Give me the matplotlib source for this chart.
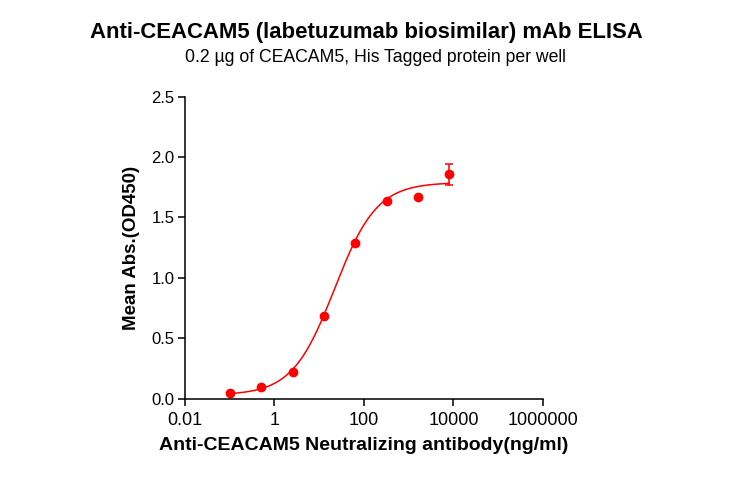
import numpy as np
import matplotlib
matplotlib.use("Agg")
import matplotlib.pyplot as plt

plt.rcParams['font.family'] = ['Liberation Sans', 'DejaVu Sans']

# data (5-fold dilution series)
conc = [0.1024, 0.512, 2.56, 12.8, 64, 320, 1600, 8000]
od450 = [0.05, 0.097, 0.224, 0.683, 1.287, 1.635, 1.668, 1.856]
od_err = [0, 0, 0, 0, 0, 0, 0, 0.09]

# 4PL fit parameters (bottom, top, EC50, hill) estimated from the drawn curve
fit_bottom = 0.03
fit_top = 1.79
fit_ec50 = 22.0
fit_hill = 0.92


def four_pl(x):
    return fit_bottom + (fit_top - fit_bottom) / (1 + (fit_ec50 / x) ** fit_hill)


fig = plt.figure(figsize=(7.3, 4.78), dpi=100)
ax = fig.add_axes([0.2534, 0.1659, 0.4904, 0.6318])

xs = np.logspace(np.log10(min(conc)), np.log10(max(conc)), 300)
ax.plot(xs, four_pl(xs), color='#ff0000', lw=1.1)
ax.errorbar(conc, od450, yerr=od_err, fmt='o', color='#ff0000', ms=6,
            elinewidth=1.1, capsize=3, capthick=1.1)

ax.set_xscale('log')
ax.set_xlim(0.01, 1e6)
ax.set_ylim(0, 2.5)
ax.set_xticks([0.01, 1, 100, 10000, 1000000])
ax.set_xticklabels(['0.01', '1', '100', '10000', '1000000'])
ax.minorticks_off()
ax.set_yticks([0, 0.5, 1.0, 1.5, 2.0, 2.5])
ax.set_yticklabels(['0.0', '0.5', '1.0', '1.5', '2.0', '2.5'])

for s in ['top', 'right']:
    ax.spines[s].set_visible(False)
for s in ['left', 'bottom']:
    ax.spines[s].set_linewidth(1.1)
ax.tick_params(width=1.1, length=5, direction='out')
ax.tick_params(axis='x', labelsize=13, pad=4.5)
ax.tick_params(axis='y', labelsize=12, pad=2.5)

ax.set_xlabel('Anti-CEACAM5 Neutralizing antibody(ng/ml)', fontsize=14,
              fontweight='bold', labelpad=6)
ax.set_ylabel('Mean Abs.(OD450)', fontsize=13.5, fontweight='bold',
              labelpad=8)

# title and subtitle
fig.text(0.502, 0.920, 'Anti-CEACAM5 (labetuzumab biosimilar) mAb ELISA',
         ha='center', va='baseline', fontsize=15.9, fontweight='bold')
fig.text(0.514, 0.871, '0.2 µg of CEACAM5, His Tagged protein per well',
         ha='center', va='baseline', fontsize=12.7)

fig.savefig('out.png', dpi=100)
